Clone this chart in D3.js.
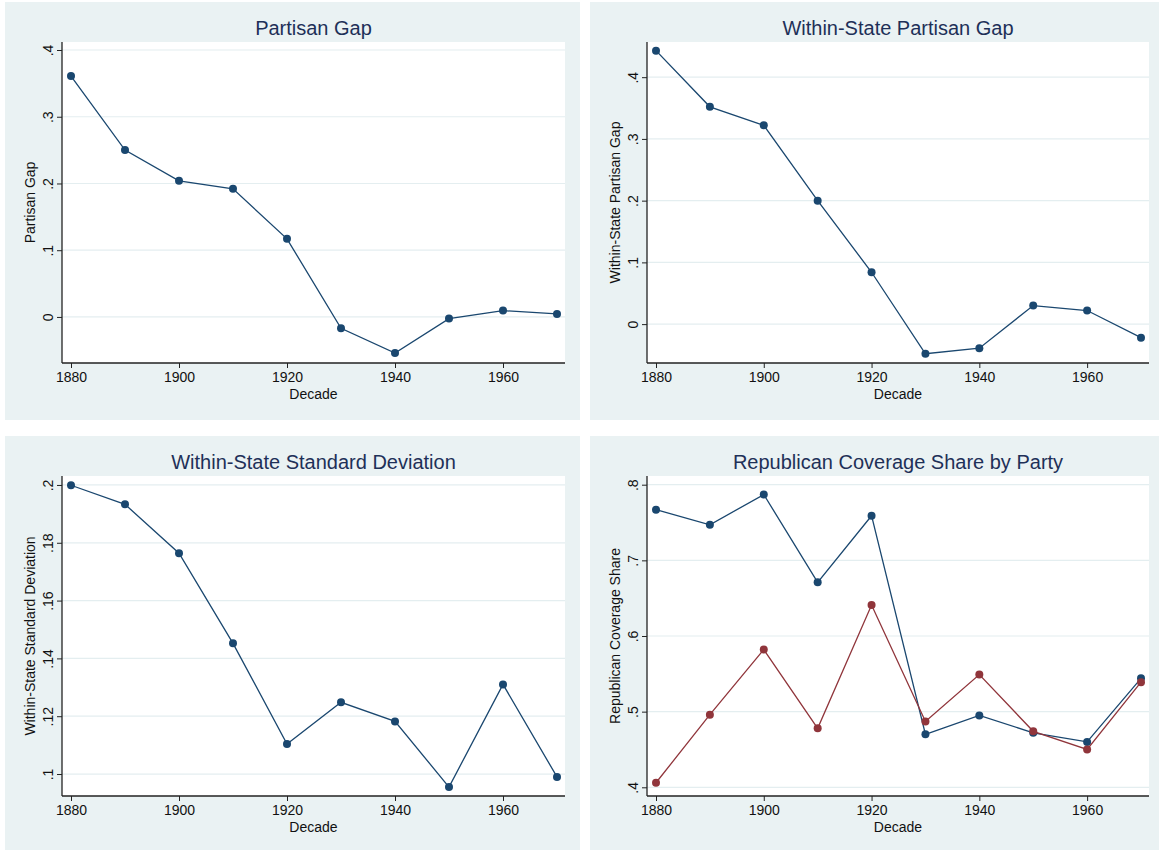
<!DOCTYPE html>
<html>
<head>
<meta charset="utf-8">
<script src="https://cdn.jsdelivr.net/npm/d3@7/dist/d3.min.js"></script>
<style>
  body { margin: 0; background: #fff; }
  svg { display: block; font-family: "Liberation Sans", Arial, sans-serif; }
</style>
</head>
<body>
<svg id="chart" width="1159" height="851"></svg>
<script>
// decades on the x axis
const decades = [ 1880, 1890, 1900, 1910, 1920, 1930, 1940, 1950, 1960, 1970 ];
const xTicks = [ 1880, 1900, 1920, 1940, 1960 ];

// series
const partisanGap = [ 0.361, 0.250, 0.204, 0.192, 0.117, -0.017, -0.054, -0.0025, 0.0095, 0.0045 ];
const withinGap = [ 0.443, 0.352, 0.322, 0.200, 0.084, -0.048, -0.039, 0.030, 0.022, -0.022 ];
const withinSd = [ 0.1999, 0.1933, 0.1764, 0.1452, 0.1104, 0.1248, 0.1182, 0.0955, 0.1310, 0.0990 ];
const repShareA = [ 0.767, 0.747, 0.787, 0.671, 0.759, 0.470, 0.495, 0.472, 0.460, 0.544 ];
const repShareB = [ 0.406, 0.496, 0.582, 0.478, 0.641, 0.487, 0.549, 0.474, 0.450, 0.539 ];

// tick values / labels
const ticksGap = [ 0, 0.1, 0.2, 0.3, 0.4 ];
const ticksSd = [ 0.1, 0.12, 0.14, 0.16, 0.18, 0.2 ];
const ticksShare = [ 0.4, 0.5, 0.6, 0.7, 0.8 ];

const BLUE = "#1a476f";
const RED = "#90353b";
const BG = "#eaf2f3";

const fmt = v => {
  if ( Math.abs( v ) < 1e-9 ) return "0";
  return String( +v.toFixed( 2 ) ).replace( /^0\./, "." );
};

const panels = [
  {
    title: "Partisan Gap", ylab: "Partisan Gap",
    bg: { x: 5, y: 2, w: 575, h: 418 },
    plot: { left: 62, top: 42, right: 565, bottom: 363 },
    ydom: [ -0.069, 0.412 ], ticks: ticksGap,
    series: [ { values: partisanGap, color: BLUE } ],
  },
  {
    title: "Within-State Partisan Gap", ylab: "Within-State Partisan Gap",
    bg: { x: 590, y: 2, w: 569, h: 418 },
    plot: { left: 647, top: 42, right: 1149, bottom: 363 },
    ydom: [ -0.063, 0.457 ], ticks: ticksGap,
    series: [ { values: withinGap, color: BLUE } ],
  },
  {
    title: "Within-State Standard Deviation", ylab: "Within-State Standard Deviation",
    bg: { x: 5, y: 436, w: 575, h: 414 },
    plot: { left: 62, top: 476, right: 565, bottom: 796 },
    ydom: [ 0.0924, 0.2031 ], ticks: ticksSd,
    series: [ { values: withinSd, color: BLUE } ],
  },
  {
    title: "Republican Coverage Share by Party", ylab: "Republican Coverage Share",
    bg: { x: 590, y: 436, w: 569, h: 414 },
    plot: { left: 647, top: 476, right: 1149, bottom: 796 },
    ydom: [ 0.3885, 0.8115 ], ticks: ticksShare,
    series: [ { values: repShareA, color: BLUE }, { values: repShareB, color: RED } ],
  },
];

const svg = d3.select( "#chart" );

const drawPanel = p => {
  const g = svg.append( "g" );
  const P = p.plot;

  g.append( "rect" )
    .attr( "x", p.bg.x ).attr( "y", p.bg.y )
    .attr( "width", p.bg.w ).attr( "height", p.bg.h )
    .attr( "fill", BG );

  g.append( "rect" )
    .attr( "x", P.left ).attr( "y", P.top )
    .attr( "width", P.right - P.left ).attr( "height", P.bottom - P.top )
    .attr( "fill", "#fff" );

  const x = d3.scaleLinear().domain( [ 1880, 1970 ] ).range( [ P.left + 9, P.right - 8 ] );
  const y = d3.scaleLinear().domain( p.ydom ).range( [ P.bottom, P.top ] );

  // gridlines
  g.selectAll( "line.grid" )
    .data( p.ticks )
    .enter()
    .append( "line" )
    .attr( "class", "grid" )
    .attr( "x1", P.left ).attr( "x2", P.right )
    .attr( "y1", d => y( d ) ).attr( "y2", d => y( d ) )
    .attr( "stroke", "#e4eef0" )
    .attr( "stroke-width", 1.2 );

  const xAxis = d3.axisBottom( x ).tickValues( xTicks ).tickSize( 5 ).tickFormat( d3.format( "d" ) );
  const yAxis = d3.axisLeft( y ).tickValues( p.ticks ).tickSize( 5 ).tickFormat( fmt );

  const gx = g.append( "g" )
    .attr( "transform", `translate(0,${P.bottom})` )
    .call( xAxis );
  gx.select( ".domain" ).attr( "d", `M${P.left},0H${P.right}` );

  const gy = g.append( "g" )
    .attr( "transform", `translate(${P.left},0)` )
    .call( yAxis );
  gy.select( ".domain" ).attr( "d", `M0,${P.top}V${P.bottom}` );

  [ gx, gy ].forEach( a => {
    a.select( ".domain" ).attr( "stroke", "#222" ).attr( "stroke-width", 1.3 );
    a.selectAll( ".tick line" ).attr( "stroke", "#222" );
    a.selectAll( ".tick text" )
      .attr( "fill", "#111" )
      .style( "font-size", "14px" )
      .style( "font-family", "'Liberation Sans', Arial, sans-serif" );
  } );

  gx.selectAll( ".tick text" ).attr( "y", 9 );

  gy.selectAll( ".tick text" )
    .attr( "x", null ).attr( "dy", null )
    .attr( "text-anchor", "middle" )
    .attr( "dominant-baseline", "central" )
    .attr( "transform", "translate(-14,0) rotate(-90)" );

  // titles
  const cx = ( P.left + P.right ) / 2;
  const cy = ( P.top + P.bottom ) / 2;

  g.append( "text" )
    .attr( "x", cx ).attr( "y", P.top - 14 )
    .attr( "text-anchor", "middle" )
    .attr( "dominant-baseline", "central" )
    .attr( "fill", "#1e3058" )
    .style( "font-size", "20px" )
    .text( p.title );

  g.append( "text" )
    .attr( "x", cx ).attr( "y", P.bottom + 31 )
    .attr( "text-anchor", "middle" )
    .attr( "dominant-baseline", "central" )
    .attr( "fill", "#111" )
    .style( "font-size", "14px" )
    .text( "Decade" );

  g.append( "text" )
    .attr( "transform", `translate(${P.left - 32},${cy}) rotate(-90)` )
    .attr( "text-anchor", "middle" )
    .attr( "dominant-baseline", "central" )
    .attr( "fill", "#111" )
    .style( "font-size", "14px" )
    .text( p.ylab );

  const line = d3.line().x( d => x( d.x ) ).y( d => y( d.y ) );

  p.series.forEach( s => {
    const data = decades.map( ( d, i ) => ( { x: d, y: s.values[i] } ) );

    g.append( "path" )
      .datum( data )
      .attr( "d", line )
      .attr( "fill", "none" )
      .attr( "stroke", s.color )
      .attr( "stroke-width", 1.3 );

    g.selectAll( null )
      .data( data )
      .enter()
      .append( "circle" )
      .attr( "cx", d => x( d.x ) )
      .attr( "cy", d => y( d.y ) )
      .attr( "r", 4 )
      .attr( "fill", s.color );
  } );
};

panels.forEach( drawPanel );
</script>
</body>
</html>
